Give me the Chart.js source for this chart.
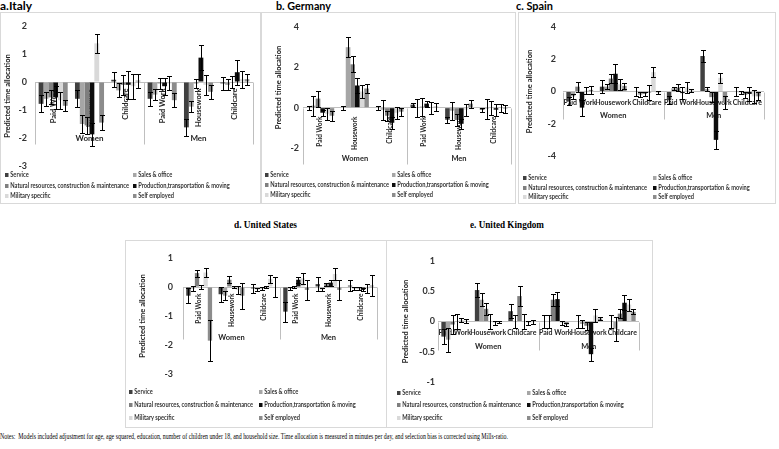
<!DOCTYPE html>
<html>
<head>
<meta charset="utf-8">
<script src="https://cdn.jsdelivr.net/npm/chart.js@4.4.1/dist/chart.umd.min.js"></script>
<style>
  body { margin: 0; width: 779px; height: 449px; background: #fff; position: relative; overflow: hidden; font-family: Lato, sans-serif; }
  .panel { position: absolute; outline: 1px solid #d9d9d9; outline-offset: -1px; }
  .panel canvas { position: absolute; left: 0; top: 0; }
  .ttl { position: absolute; white-space: nowrap; font-weight: bold; color: #000; line-height: 12px; transform-origin: 0 50%; }
  .sans { font-family: Lato, sans-serif; font-size: 11px; }
  .serif { font-family: "Liberation Serif", serif; font-size: 10px; }
  .leg { position: absolute; white-space: nowrap; font: bold 6.5px Lato, sans-serif; color: #333; line-height: 7px; transform-origin: 0 50%; }
  .leg i { display: inline-block; width: 4px; height: 4px; margin-right: 2px; vertical-align: 0; }
  #notes { position: absolute; left: 0; top: 432px; font-family: "Liberation Serif", serif; font-size: 8px; line-height: 10px; white-space: nowrap; transform-origin: 0 50%; color: #000; }
</style>
</head>
<body>
<div class="ttl sans" style="left:0;top:0" data-w="32">a.Italy</div>
<div class="ttl sans" style="left:276px;top:0" data-w="55">b. Germany</div>
<div class="ttl sans" style="left:516px;top:0" data-w="37">c. Spain</div>
<div class="ttl serif" style="left:234px;top:219px" data-w="63">d. United States</div>
<div class="ttl serif" style="left:470px;top:219px" data-w="74">e. United Kingdom</div>
<div id="notes" data-w="508">Notes:&nbsp; Models included adjustment for age, age squared, education, number of children under 18, and household size. Time allocation is measured in minutes per day, and selection bias is corrected using Mills-ratio.</div>

<script>
const categories = ["Paid Work", "Housework", "Childcare", "Paid Work", "Housework", "Childcare"];
const groups = ["Women", "Men"];
const seriesNames = [
    "Service",
    "Sales & office",
    "Natural resources, construction & maintenance",
    "Production,transportation & moving",
    "Military specific",
    "Self employed"
];
const seriesColors = ["#404040", "#a6a6a6", "#7f7f7f", "#0d0d0d", "#d9d9d9", "#8c8c8c"];

// rows = series, cols = Women PW/HW/CC, Men PW/HW/CC
const italyMean = [
    [-0.78, -0.6, 0.08, -0.6, -1.62, -0.05],
    [-0.6, -1.5, -0.3, -0.45, -0.88, -0.1],
    [-0.55, -1.55, -0.1, -0.05, -0.05, 0.0],
    [-0.55, -1.87, -0.1, -0.15, 0.87, 0.35],
    [-0.65, 1.38, -0.15, -0.05, -0.1, 0.1],
    [-0.85, -1.45, 0.05, -0.65, -0.35, 0.1]
];
const italyErr = [
    [0.3, 0.3, 0.26, 0.25, 0.3, 0.22],
    [0.25, 0.33, 0.25, 0.2, 0.2, 0.2],
    [0.25, 0.3, 0.35, 0.2, 0.15, 0.2],
    [0.4, 0.42, 0.5, 0.3, 0.45, 0.45],
    [0.3, 0.33, 0.45, 0.25, 0.35, 0.3],
    [0.2, 0.27, 0.25, 0.25, 0.25, 0.2]
];
const italyTicks = [-3, -2, -1, 0, 1, 2];

const germanyMean = [
    [0.0, 0.0, 0.0, 0.15, -0.6, -0.1],
    [0.1, 3.0, -0.1, 0.0, -0.15, -0.05],
    [0.45, 2.15, -0.4, 0.05, -0.6, 0.0],
    [-0.25, 1.1, -0.75, 0.2, -0.8, -0.1],
    [-0.3, 0.8, -0.25, 0.0, -0.1, 0.0],
    [-0.4, 0.95, -0.2, 0.05, 0.2, -0.05]
];
const germanyErr = [
    [0.1, 0.1, 0.1, 0.1, 0.15, 0.1],
    [0.5, 0.5, 0.5, 0.45, 0.45, 0.5],
    [0.4, 0.4, 0.25, 0.45, 0.3, 0.35],
    [0.15, 0.35, 0.3, 0.15, 0.25, 0.3],
    [0.3, 0.3, 0.3, 0.3, 0.3, 0.2],
    [0.25, 0.2, 0.2, 0.2, 0.2, 0.2]
];
const germanyTicks = [-2, 0, 2, 4];

const spainMean = [
    [-0.6, 0.3, 0.0, -0.55, 2.2, 0.0],
    [-0.3, 0.3, -0.2, 0.2, 0.15, -0.05],
    [0.3, 0.8, -0.15, 0.25, -0.35, -0.2],
    [-1.0, 1.1, -0.05, -0.1, -3.0, -0.15],
    [0.05, 0.45, 1.2, 0.25, 0.85, -0.3],
    [0.1, 0.35, -0.05, 0.05, -0.7, -0.3]
];
const spainErr = [
    [0.25, 0.4, 0.25, 0.25, 0.4, 0.3],
    [0.15, 0.15, 0.15, 0.1, 0.1, 0.1],
    [0.3, 0.3, 0.15, 0.2, 0.3, 0.2],
    [0.5, 0.6, 0.45, 0.35, 0.55, 0.45],
    [0.2, 0.35, 0.3, 0.35, 0.3, 0.4],
    [0.25, 0.2, 0.1, 0.1, 0.4, 0.25]
];
const spainTicks = [-4, -2, 0, 2, 4];

const usMean = [
    [-0.3, -0.25, -0.05, -0.85, 0.1, 0.05],
    [-0.05, -0.3, -0.08, -0.05, -0.08, -0.05],
    [0.48, 0.25, -0.05, 0.0, 0.1, -0.05],
    [0.0, 0.0, 0.0, 0.25, 0.15, -0.1],
    [0.5, -0.1, 0.28, 0.3, 0.45, -0.05],
    [-1.85, -0.3, 0.0, -0.1, -0.1, 0.05]
];
const usErr = [
    [0.25, 0.25, 0.15, 0.35, 0.25, 0.2],
    [0.08, 0.15, 0.05, 0.05, 0.05, 0.05],
    [0.12, 0.12, 0.05, 0.05, 0.05, 0.05],
    [0.08, 0.05, 0.05, 0.1, 0.1, 0.05],
    [0.15, 0.15, 0.15, 0.18, 0.2, 0.15],
    [0.7, 0.45, 0.35, 0.35, 0.35, 0.35]
];
const usTicks = [-3, -2, -1, 0, 1];

const ukMean = [
    [-0.25, 0.52, 0.17, 0.0, 0.0, 0.0],
    [-0.3, 0.36, 0.0, 0.0, -0.04, -0.12],
    [-0.05, 0.21, 0.42, 0.36, -0.07, 0.13],
    [0.0, 0.0, 0.0, 0.37, -0.54, 0.31],
    [0.03, -0.02, -0.02, -0.02, 0.1, 0.28],
    [0.01, -0.01, -0.01, -0.05, 0.05, 0.16]
];
const ukErr = [
    [0.12, 0.11, 0.12, 0.11, 0.11, 0.11],
    [0.2, 0.11, 0.1, 0.11, 0.06, 0.2],
    [0.15, 0.1, 0.17, 0.1, 0.07, 0.07],
    [0.12, 0.13, 0.13, 0.12, 0.11, 0.12],
    [0.03, 0.03, 0.03, 0.03, 0.1, 0.1],
    [0.03, 0.02, 0.03, 0.03, 0.03, 0.04]
];
const ukTicks = [-1, -0.5, 0, 0.5, 1];

// multi-level category axis drawn at y = 0, under the bars
const catAxisPlugin = {
    id: "catAxis",
    beforeDatasetsDraw(chart, args, o) {
        const { ctx, scales: { x, y } } = chart;
        const y0 = Math.round(y.getPixelForValue(0)) + 0.5;
        ctx.save();
        ctx.strokeStyle = "#bfbfbf";
        ctx.lineWidth = 1;
        [-0.5, 2.5, 5.5].forEach(v => {
            const px = Math.round(x.getPixelForValue(v)) + 0.5;
            ctx.beginPath();
            ctx.moveTo(px, y0);
            ctx.lineTo(px, y0 + o.depth);
            ctx.stroke();
        });
        ctx.fillStyle = "#262626";
        ctx.font = "bold " + o.catSize + "px Lato";
        chart.data.labels.forEach((lab, i) => {
            const px = x.getPixelForValue(i);
            if (o.rotate) {
                ctx.save();
                ctx.translate(px, y0 + o.catOff);
                ctx.rotate(-Math.PI / 2);
                ctx.textAlign = "right";
                ctx.textBaseline = "middle";
                ctx.fillText(lab, 0, 0);
                ctx.restore();
            } else {
                ctx.textAlign = "center";
                ctx.textBaseline = "middle";
                ctx.fillText(lab, px, y0 + o.catOff);
            }
        });
        ctx.font = "bold " + o.groupSize + "px Lato";
        ctx.textAlign = "center";
        ctx.textBaseline = "middle";
        groups.forEach((g, k) => {
            ctx.fillText(g, x.getPixelForValue(1 + 3 * k), y0 + o.groupOff);
        });
        ctx.restore();
    }
};

const errorBarPlugin = {
    id: "errorBars",
    afterDatasetsDraw(chart) {
        const { ctx, scales: { y } } = chart;
        ctx.save();
        ctx.strokeStyle = "#000";
        ctx.lineWidth = 1;
        chart.data.datasets.forEach((ds, di) => {
            chart.getDatasetMeta(di).data.forEach((bar, i) => {
                const v = ds.data[i];
                const e = ds.errors[i];
                const px = Math.round(bar.x) + 0.5;
                const yTop = Math.round(y.getPixelForValue(v + e)) + 0.5;
                const yBot = Math.round(y.getPixelForValue(v - e)) + 0.5;
                ctx.beginPath();
                ctx.moveTo(px, yTop); ctx.lineTo(px, yBot);
                ctx.moveTo(px - 2.5, yTop); ctx.lineTo(px + 2.5, yTop);
                ctx.moveTo(px - 2.5, yBot); ctx.lineTo(px + 2.5, yBot);
                ctx.stroke();
            });
        });
        ctx.restore();
    }
};

const panels = [
    { mean: italyMean, err: italyErr, ticks: italyTicks,
      box: [0, 12, 261, 192], plot: { left: 35, right: 253, top: 14, bottom: 154 },
      tickPad: 8, titlePad: 3,
      axis: { rotate: true, catSize: 7.5, catOff: 6, groupSize: 8, groupOff: 56, depth: 62 },
      leg: { x: [5, 133], y: [162, 173, 183] } },
    { mean: germanyMean, err: germanyErr, ticks: germanyTicks,
      box: [261, 12, 255, 192], plot: { left: 42, right: 250, top: 15, bottom: 136 },
      tickPad: 4, titlePad: 13,
      axis: { rotate: true, catSize: 6.5, catOff: 8, groupSize: 7.5, groupOff: 50, depth: 56 },
      leg: { x: [4, 131], y: [162, 172, 182] } },
    { mean: spainMean, err: spainErr, ticks: spainTicks,
      box: [518, 12, 258, 192], plot: { left: 45, right: 246, top: 15, bottom: 144 },
      tickPad: 7, titlePad: 7,
      axis: { rotate: false, catSize: 7, catOff: 10, groupSize: 7.5, groupOff: 23, depth: 27 },
      leg: { x: [5, 135], y: [165, 175, 184] } },
    { mean: usMean, err: usErr, ticks: usTicks,
      box: [125, 240, 262, 188], plot: { left: 58, right: 252, top: 18, bottom: 134 },
      tickPad: 10, titlePad: 13,
      axis: { rotate: true, catSize: 6.5, catOff: 6, groupSize: 7.5, groupOff: 50, depth: 52 },
      leg: { x: [4, 134], y: [151, 164, 177] } },
    { mean: ukMean, err: ukErr, ticks: ukTicks,
      box: [386, 240, 267, 188], plot: { left: 52, right: 253, top: 21, bottom: 142 },
      tickPad: 3, titlePad: 15,
      axis: { rotate: false, catSize: 7, catOff: 10, groupSize: 7.5, groupOff: 24, depth: 28 },
      leg: { x: [11, 141], y: [152, 164, 177] } }
];

function fitWidth(el, w) {
    const cur = el.getBoundingClientRect().width;
    if (cur > 0) el.style.transform = "scaleX(" + (w / cur) + ")";
}

function makePanel(p) {
    const [bx, by, bw, bh] = p.box;
    const box = document.createElement("div");
    box.className = "panel";
    box.style.cssText = `left:${bx}px;top:${by}px;width:${bw}px;height:${bh}px`;
    document.body.appendChild(box);

    const cv = document.createElement("canvas");
    cv.width = bw;
    cv.height = bh;
    box.appendChild(cv);

    const items = seriesNames.map((name, i) => {
        const d = document.createElement("div");
        d.className = "leg";
        d.style.left = p.leg.x[i % 2] + "px";
        d.style.top = (p.leg.y[Math.floor(i / 2)] - 3.5) + "px";
        d.innerHTML = `<i style="background:${seriesColors[i]}"></i>${name}`;
        box.appendChild(d);
        return d;
    });
    // longest entry is about 124 px wide in the picture
    const s = 124 / items[2].getBoundingClientRect().width;
    items.forEach(d => { d.style.transform = "scaleX(" + s + ")"; });

    const ticks = p.ticks;
    new Chart(cv, {
        type: "bar",
        data: {
            labels: categories,
            datasets: seriesNames.map((name, i) => ({
                label: name,
                data: p.mean[i],
                errors: p.err[i],
                backgroundColor: seriesColors[i],
                borderWidth: 0,
                categoryPercentage: 0.8,
                barPercentage: 1
            }))
        },
        options: {
            responsive: false,
            animation: false,
            devicePixelRatio: 1,
            layout: {
                padding: {
                    left: 0,
                    top: p.plot.top,
                    right: bw - p.plot.right,
                    bottom: bh - p.plot.bottom
                }
            },
            plugins: {
                legend: { display: false },
                tooltip: { enabled: false },
                catAxis: p.axis
            },
            scales: {
                x: { display: false },
                y: {
                    min: ticks[0],
                    max: ticks[ticks.length - 1],
                    ticks: {
                        stepSize: ticks[1] - ticks[0],
                        padding: p.tickPad,
                        color: "#333",
                        font: { family: "Lato", size: 9, weight: "bold" },
                        callback: v => String(v)
                    },
                    grid: {
                        drawTicks: false,
                        color: c => (c.tick && c.tick.value === 0 ? "#bfbfbf" : "rgba(0,0,0,0)")
                    },
                    border: { display: false },
                    title: {
                        display: true,
                        text: "Predicted time allocation",
                        color: "#222",
                        font: { family: "Lato", size: 7.5, weight: "bold" },
                        padding: { top: p.titlePad, bottom: 0 }
                    },
                    afterFit: sc => { sc.width = p.plot.left; }
                }
            }
        },
        plugins: [catAxisPlugin, errorBarPlugin]
    });
}

panels.forEach(makePanel);

document.querySelectorAll("[data-w]").forEach(el => fitWidth(el, +el.dataset.w));
</script>
</body>
</html>
